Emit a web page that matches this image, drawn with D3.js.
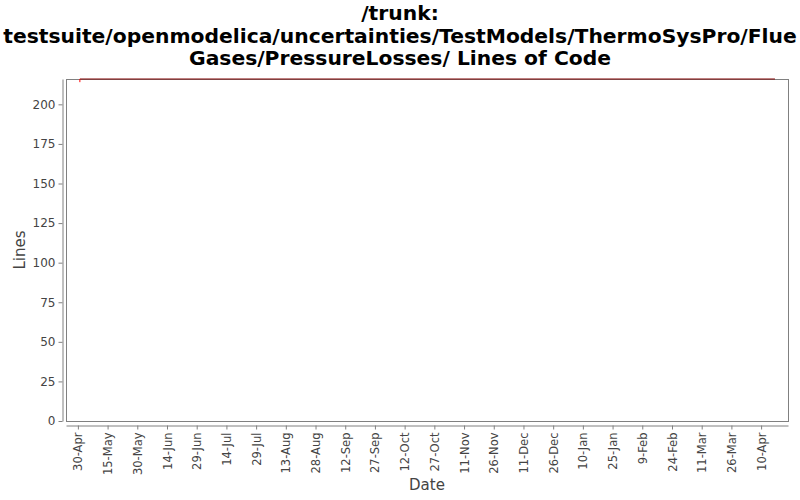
<!DOCTYPE html>
<html>
<head>
<meta charset="utf-8">
<script src="https://cdn.jsdelivr.net/npm/d3@7"></script>
<style>
  body { margin: 0; background: #fff; }
  text { font-family: "DejaVu Sans", sans-serif; }
</style>
</head>
<body>
<div id="chart"></div>
<script>
const titleLines = [
  '/trunk:',
  'testsuite/openmodelica/uncertainties/TestModels/ThermoSysPro/Flue',
  'Gases/PressureLosses/ Lines of Code'
];

// main series (dark red)
const locDates = ['2010-05-01', '2011-04-17'];
const locValues = [216, 216];

// short red segment at the start
const startDates = ['2010-05-01', '2010-05-01'];
const startValues = [214, 216];

const xTickDates = [
  '2010-04-30', '2010-05-15', '2010-05-30', '2010-06-14', '2010-06-29', '2010-07-14',
  '2010-07-29', '2010-08-13', '2010-08-28', '2010-09-12', '2010-09-27', '2010-10-12',
  '2010-10-27', '2010-11-11', '2010-11-26', '2010-12-11', '2010-12-26', '2011-01-10',
  '2011-01-25', '2011-02-09', '2011-02-24', '2011-03-11', '2011-03-26', '2011-04-10'
];
const yTicks = [0, 25, 50, 75, 100, 125, 150, 175, 200];
const xDomain = ['2010-04-24T00:00', '2011-04-23T14:00'];
const yMax = 216;

const parse = d3.timeParse('%Y-%m-%d');
const parseT = d3.isoParse;

const width = 800, height = 500;
const plot = { left: 66, right: 788, top: 79, bottom: 421 };

const svg = d3.select('#chart').append('svg')
  .attr('width', width)
  .attr('height', height);

svg.append('g')
  .selectAll('text')
  .data(titleLines)
  .enter()
  .append('text')
  .attr('x', 400)
  .attr('y', (d, i) => 20 + i * 22.5)
  .attr('text-anchor', 'middle')
  .attr('font-size', 20.3)
  .attr('font-weight', 'bold')
  .attr('fill', '#000')
  .text(d => d);

const x = d3.scaleTime()
  .domain(xDomain.map(d => parseT(d)))
  .range([plot.left, plot.right]);

const y = d3.scaleLinear()
  .domain([0, yMax])
  .range([plot.bottom, plot.top]);

// plot outline
svg.append('rect')
  .attr('x', plot.left + 0.5)
  .attr('y', plot.top + 0.5)
  .attr('width', plot.right - plot.left)
  .attr('height', plot.bottom - plot.top)
  .attr('fill', '#fff')
  .attr('stroke', '#808080')
  .attr('stroke-width', 1);

// y axis
const yAxis = svg.append('g')
  .attr('transform', `translate(${plot.left - 3.5},0)`)
  .call(d3.axisLeft(y).tickValues(yTicks).tickSize(4).tickPadding(3).tickSizeOuter(0));
yAxis.select('.domain').attr('stroke', '#808080');
yAxis.selectAll('.tick line').attr('stroke', '#808080');
yAxis.selectAll('.tick text')
  .attr('font-family', 'DejaVu Sans, sans-serif')
  .attr('font-size', 12)
  .attr('fill', '#444');

// x axis
const xAxis = svg.append('g')
  .attr('transform', `translate(0,${plot.bottom + 4.5})`)
  .call(d3.axisBottom(x)
    .tickValues(xTickDates.map(parse))
    .tickFormat(d3.timeFormat('%-d-%b'))
    .tickSize(4)
    .tickSizeOuter(0));
xAxis.select('.domain').attr('stroke', '#808080');
xAxis.selectAll('.tick line').attr('stroke', '#808080');
xAxis.selectAll('.tick text')
  .attr('font-family', 'DejaVu Sans, sans-serif')
  .attr('font-size', 11.5)
  .attr('fill', '#444')
  .attr('text-anchor', 'end')
  .attr('transform', 'rotate(-90)')
  .attr('x', -7)
  .attr('y', 0)
  .attr('dy', '0.35em');

// axis labels
svg.append('text')
  .attr('x', (plot.left + plot.right) / 2)
  .attr('y', 490)
  .attr('text-anchor', 'middle')
  .attr('font-size', 15)
  .attr('fill', '#444')
  .text('Date');

svg.append('text')
  .attr('transform', `translate(25,${(plot.top + plot.bottom) / 2}) rotate(-90)`)
  .attr('text-anchor', 'middle')
  .attr('font-size', 15)
  .attr('fill', '#444')
  .text('Lines');

const line = d3.line()
  .x(d => x(d[0]))
  .y(d => y(d[1]));

svg.append('path')
  .datum(locDates.map((d, i) => [parse(d), locValues[i]]))
  .attr('fill', 'none')
  .attr('stroke', '#800000')
  .attr('stroke-width', 1)
  .attr('d', line);

svg.append('path')
  .datum(startDates.map((d, i) => [parse(d), startValues[i]]))
  .attr('fill', 'none')
  .attr('stroke', '#ff0000')
  .attr('stroke-width', 1)
  .attr('d', line);
</script>
</body>
</html>
